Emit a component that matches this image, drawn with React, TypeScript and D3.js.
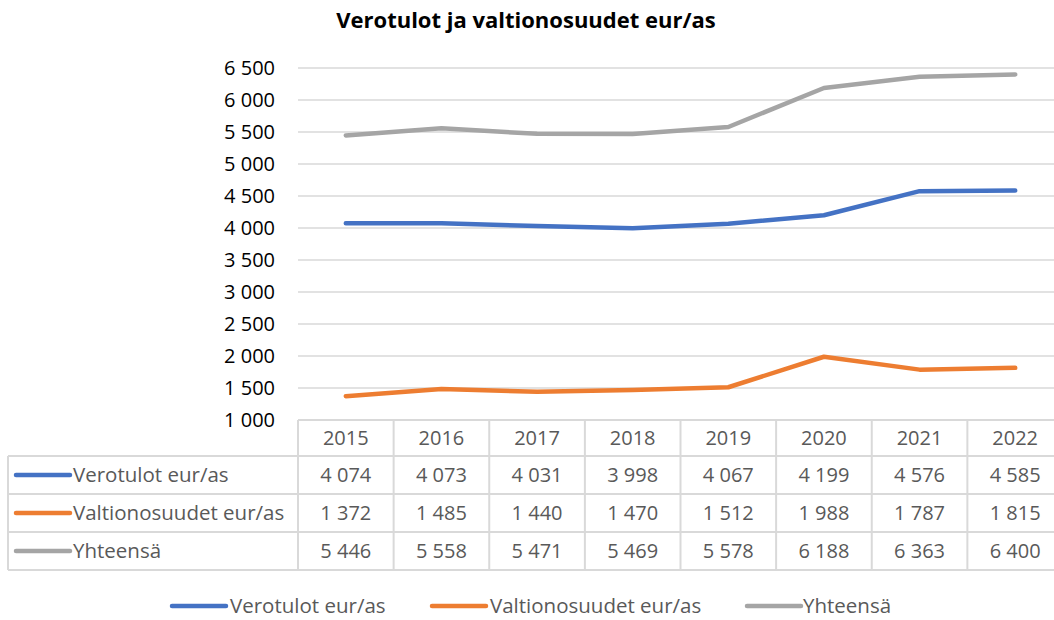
import * as d3 from "d3";

const years = ["2015", "2016", "2017", "2018", "2019", "2020", "2021", "2022"];
const verotulot = [4074, 4073, 4031, 3998, 4067, 4199, 4576, 4585];
const valtionosuudet = [1372, 1485, 1440, 1470, 1512, 1988, 1787, 1815];
const yhteensa = [5446, 5558, 5471, 5469, 5578, 6188, 6363, 6400];
const seriesNames = ["Verotulot eur/as", "Valtionosuudet eur/as", "Yhteensä"];
const yTicks = [1000, 1500, 2000, 2500, 3000, 3500, 4000, 4500, 5000, 5500, 6000, 6500];

const colors = ["#4472C4", "#ED7D31", "#A5A5A5"];
const font = "'Open Sans', 'Noto Sans', sans-serif";
const gridColor = "#d9d9d9";
const textColor = "#595959";

const fmt = (v: number) => {
  const s = String(v);
  return s.length > 3 ? s.slice(0, s.length - 3) + " " + s.slice(-3) : s;
};

export default function App() {
  const width = 1054;
  const height = 620;
  const x = d3.scaleBand<string>().domain(years).range([298, 1063]);
  const y = d3.scaleLinear().domain([1000, 6500]).range([420, 68]);
  const cx = (yr: string) => (x(yr) ?? 0) + x.bandwidth() / 2;

  const line = d3
    .line<number>()
    .x((_, i) => cx(years[i]))
    .y((d) => y(d))
    .curve(d3.curveLinear);

  const series = [verotulot, valtionosuudet, yhteensa];
  const rowTops = [420, 456, 494, 532, 570];

  return (
    <div style={{ position: "fixed", left: 0, top: 0, width, height, overflow: "hidden" }}>
      <svg width={width} height={height} style={{ display: "block", background: "#fff" }}>
        <text x={526} y={28} textAnchor="middle" fontFamily={font} fontWeight="bold" fontSize={22} fill="#000">
          Verotulot ja valtionosuudet eur/as
        </text>

        {yTicks.map((t) => (
          <g key={t}>
            {t > 1000 && (
              <line x1={298} x2={width} y1={y(t)} y2={y(t)} stroke={gridColor} strokeWidth={1.5} />
            )}
            <text x={275} y={y(t)} dy="0.35em" textAnchor="end" fontFamily={font} fontSize={20} fill="#000">
              {fmt(t)}
            </text>
          </g>
        ))}

        {/* data table grid */}
        <line x1={298} x2={width} y1={rowTops[0]} y2={rowTops[0]} stroke={gridColor} strokeWidth={2} />
        {rowTops.slice(1).map((ty) => (
          <line key={ty} x1={8} x2={width} y1={ty} y2={ty} stroke={gridColor} strokeWidth={2} />
        ))}
        <line x1={8} x2={8} y1={rowTops[1]} y2={rowTops[4]} stroke={gridColor} strokeWidth={2} />
        {years.map((yr) => (
          <line key={yr} x1={x(yr)} x2={x(yr)} y1={rowTops[0]} y2={rowTops[4]} stroke={gridColor} strokeWidth={2} />
        ))}
        {years.map((yr) => (
          <text key={yr} x={cx(yr)} y={(rowTops[0] + rowTops[1]) / 2} dy="0.35em" textAnchor="middle" fontFamily={font} fontSize={20} fill={textColor}>
            {yr}
          </text>
        ))}
        {series.map((vals, si) => {
          const my = (rowTops[si + 1] + rowTops[si + 2]) / 2;
          return (
            <g key={si}>
              <line x1={16} x2={70} y1={my} y2={my} stroke={colors[si]} strokeWidth={4.5} strokeLinecap="round" />
              <text x={73} y={my} dy="0.35em" fontFamily={font} fontSize={20.5} fill={textColor}>
                {seriesNames[si]}
              </text>
              {vals.map((v, i) => (
                <text key={i} x={cx(years[i])} y={my} dy="0.35em" textAnchor="middle" fontFamily={font} fontSize={20} fill={textColor}>
                  {fmt(v)}
                </text>
              ))}
            </g>
          );
        })}

        {series.map((vals, si) => (
          <path key={si} d={line(vals) ?? ""} fill="none" stroke={colors[si]} strokeWidth={4.5} strokeLinecap="round" strokeLinejoin="round" />
        ))}

        {/* legend */}
        {[
          { kx: 172, tx: 230 },
          { kx: 432, tx: 490 },
          { kx: 747, tx: 803 },
        ].map((p, si) => (
          <g key={si}>
            <line x1={p.kx} x2={p.kx + 54} y1={606} y2={606} stroke={colors[si]} strokeWidth={4.5} strokeLinecap="round" />
            <text x={p.tx} y={606} dy="0.35em" fontFamily={font} fontSize={20.5} fill={textColor}>
              {seriesNames[si]}
            </text>
          </g>
        ))}
      </svg>
    </div>
  );
}
